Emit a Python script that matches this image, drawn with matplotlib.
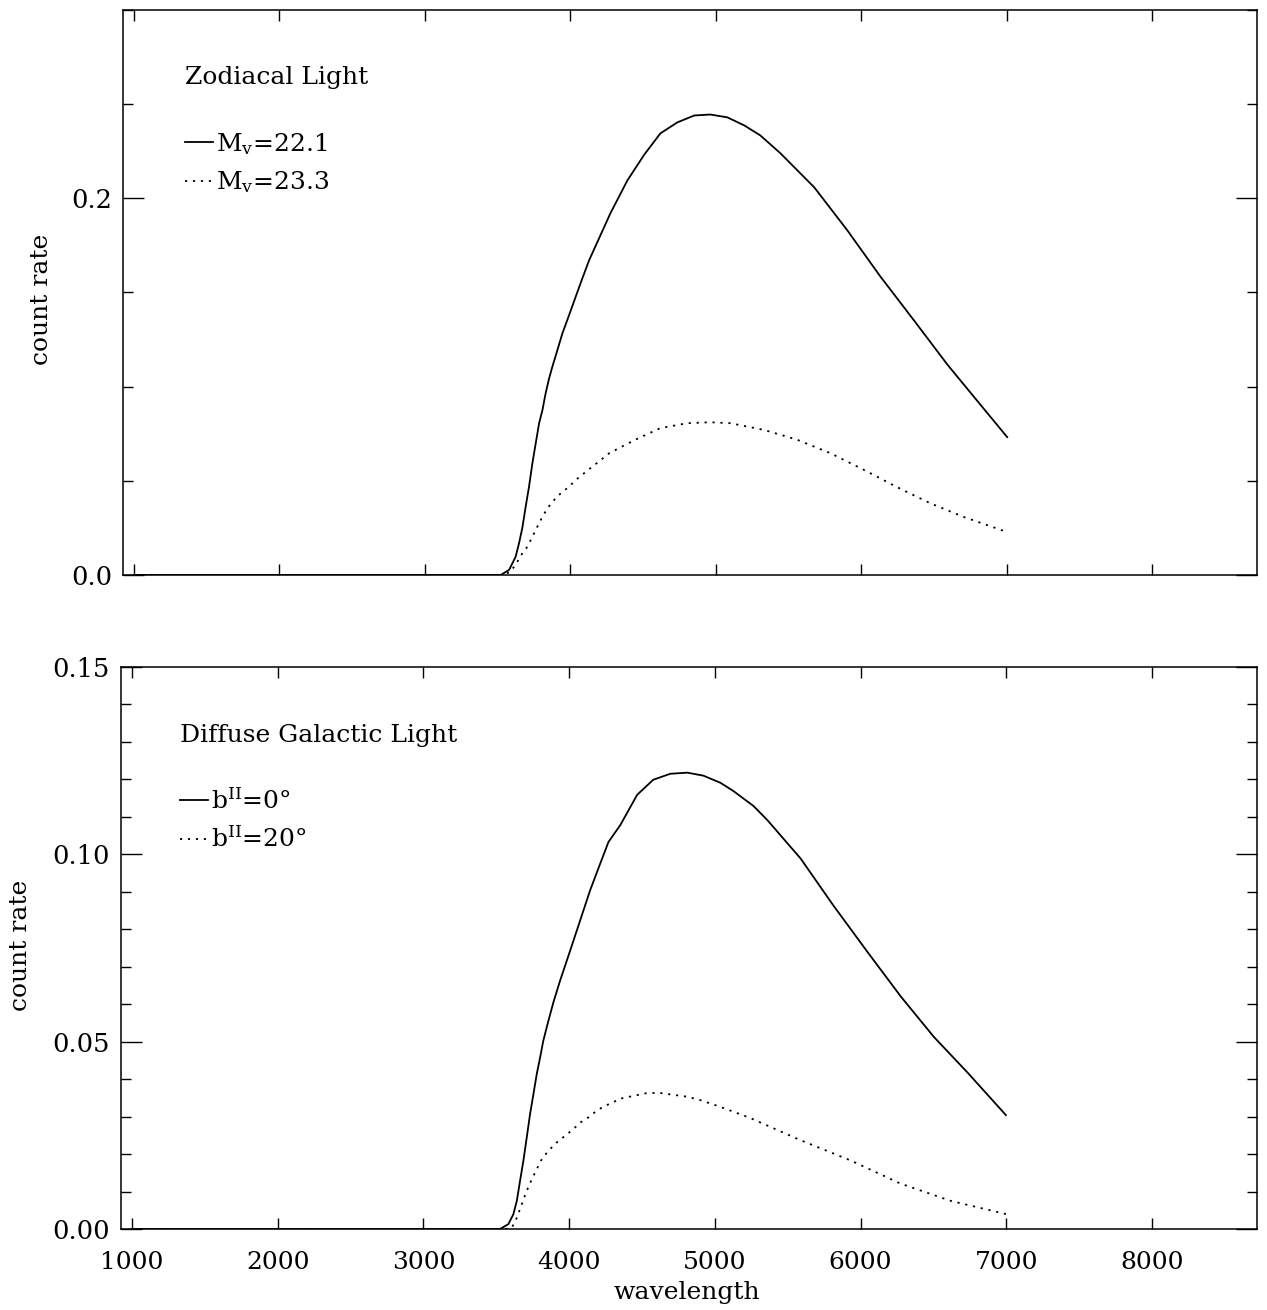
import matplotlib
matplotlib.use("Agg")
import matplotlib.pyplot as plt
from matplotlib.ticker import MultipleLocator, FormatStrFormatter

plt.rcParams['font.family'] = ['DejaVu Serif']
plt.rcParams['mathtext.fontset'] = 'dejavuserif'

# ---- data ----
zodi_bright_x = [1000, 3500, 3521, 3579, 3624, 3647, 3670, 3693, 3716, 3739, 3762, 3785, 3808,
                 3830, 3854, 3876, 3911, 3945, 3991, 4036, 4082, 4129, 4275, 4392, 4509, 4619,
                 4735, 4852, 4962, 5079, 5196, 5306, 5443, 5677, 5904, 6131, 6364, 6591, 6818,
                 7003]
zodi_bright_y = [0, 0, 0, 0.0027, 0.0097, 0.0168, 0.0250, 0.0363, 0.0469, 0.0593, 0.0699,
                 0.0805, 0.0875, 0.0964, 0.1044, 0.1105, 0.1194, 0.1282, 0.1379, 0.1476, 0.1574,
                 0.1671, 0.1920, 0.2095, 0.2233, 0.2345, 0.2403, 0.2440, 0.2445, 0.2430, 0.2387,
                 0.2334, 0.2240, 0.2058, 0.1830, 0.1585, 0.1350, 0.1118, 0.0905, 0.0732]

zodi_faint_x = [1000, 3540, 3590, 3636, 3670, 3704, 3739, 3773, 3808, 3842, 3888, 3933, 3991,
                4036, 4094, 4151, 4208, 4266, 4440, 4619, 4804, 4962, 5100, 5333, 5560, 5787,
                6021, 6247, 6474, 6708, 7003]
zodi_faint_y = [0, 0, 0.0018, 0.0071, 0.0115, 0.0150, 0.0203, 0.0256, 0.0309, 0.0354, 0.0398,
                0.0433, 0.0469, 0.0504, 0.0540, 0.0575, 0.0610, 0.0646, 0.0716, 0.0780, 0.0806,
                0.0811, 0.0806, 0.0770, 0.0718, 0.0647, 0.0557, 0.0466, 0.0381, 0.0307, 0.0228]

dgl_b0_x = [1000, 3500, 3526, 3583, 3617, 3641, 3663, 3686, 3709, 3732, 3755, 3778, 3801, 3823,
            3858, 3892, 3938, 4007, 4076, 4144, 4213, 4270, 4351, 4467, 4577, 4694, 4811, 4921,
            5038, 5127, 5265, 5361, 5588, 5814, 6048, 6275, 6502, 6735, 6997]
dgl_b0_y = [0, 0, 0, 0.0013, 0.0039, 0.0075, 0.0128, 0.0182, 0.0244, 0.0307, 0.0360, 0.0414,
            0.0458, 0.0503, 0.0556, 0.0605, 0.0663, 0.0743, 0.0824, 0.0904, 0.0975, 0.1033,
            0.1078, 0.1159, 0.1199, 0.1215, 0.1218, 0.1210, 0.1191, 0.1169, 0.1129, 0.1091,
            0.0989, 0.0863, 0.0739, 0.0621, 0.0513, 0.0417, 0.0304]

dgl_b20_x = [1000, 3560, 3606, 3641, 3675, 3709, 3744, 3778, 3812, 3858, 3915, 3973, 4030,
             4076, 4133, 4190, 4247, 4304, 4339, 4536, 4625, 4811, 4900, 5038, 5244, 5588,
             5931, 6275, 6619, 6997]
dgl_b20_y = [0, 0, 0.0003, 0.0030, 0.0066, 0.0102, 0.0133, 0.0160, 0.0186, 0.0209, 0.0231,
             0.0249, 0.0267, 0.0284, 0.0298, 0.0316, 0.0329, 0.0338, 0.0347, 0.0363, 0.0363,
             0.0353, 0.0344, 0.0326, 0.0296, 0.0237, 0.0183, 0.0121, 0.0075, 0.0040]

top_title = "Zodiacal Light"
top_labels = ["M$_\\mathrm{v}$=22.1", "M$_\\mathrm{v}$=23.3"]
bot_title = "Diffuse Galactic Light"
bot_labels = ["b$^{\\mathrm{II}}$=0°", "b$^{\\mathrm{II}}$=20°"]

x_ticks = [1000, 2000, 3000, 4000, 5000, 6000, 7000, 8000]

# ---- figure ----
W, H = 1267, 1310
fig = plt.figure(figsize=(W / 100, H / 100), dpi=100)
ax1 = fig.add_axes([123 / W, 1 - 575 / H, (1257 - 123) / W, (575 - 10) / H])
ax2 = fig.add_axes([121 / W, 1 - 1229 / H, (1257 - 121) / W, (1229 - 667) / H])

dot = (0, (1.2, 3.2))
lw = 1.3

ax1.plot(zodi_bright_x, zodi_bright_y, color='black', lw=lw, label=top_labels[0])
ax1.plot(zodi_faint_x, zodi_faint_y, color='black', lw=lw, ls=dot, label=top_labels[1])
ax2.plot(dgl_b0_x, dgl_b0_y, color='black', lw=lw, label=bot_labels[0])
ax2.plot(dgl_b20_x, dgl_b20_y, color='black', lw=lw, ls=dot, label=bot_labels[1])

for ax in (ax1, ax2):
    ax.set_xlim(925, 8720)
    ax.set_xticks(x_ticks)
    ax.tick_params(axis='both', which='both', direction='in', top=True, right=True,
                   width=1.0, colors='black')
    ax.tick_params(axis='x', which='major', length=8, pad=16, labelsize=18)
    ax.tick_params(axis='y', which='major', length=15, pad=8, labelsize=18.5)
    ax.tick_params(axis='y', which='minor', length=7.5)
    for s in ax.spines.values():
        s.set_linewidth(1.1)

ax1.set_ylim(0, 0.3)
ax1.yaxis.set_major_locator(MultipleLocator(0.2))
ax1.yaxis.set_minor_locator(MultipleLocator(0.05))
ax1.yaxis.set_major_formatter(FormatStrFormatter('%.1f'))
ax1.tick_params(axis='x', labelbottom=False)

ax2.set_ylim(0, 0.15)
ax2.yaxis.set_major_locator(MultipleLocator(0.05))
ax2.yaxis.set_minor_locator(MultipleLocator(0.01))
ax2.yaxis.set_major_formatter(FormatStrFormatter('%.2f'))

ax1.set_ylabel("count rate", fontsize=18)
ax1.yaxis.set_label_coords(-0.062, 0.487)
ax2.set_ylabel("count rate", fontsize=18)
ax2.yaxis.set_label_coords(-0.078, 0.505)
ax2.set_xlabel("wavelength", fontsize=18)
ax2.xaxis.set_label_coords(0.498, -0.093)

ax1.text(0.0548, 0.881, top_title, transform=ax1.transAxes, fontsize=18,
         ha='left', va='center')
ax2.text(0.052, 0.879, bot_title, transform=ax2.transAxes, fontsize=18,
         ha='left', va='center')

leg_kw = dict(loc='upper left', frameon=False, fontsize=18, handlelength=1.1,
              handletextpad=0.15, labelspacing=0.5, borderpad=0, borderaxespad=0)
ax1.legend(bbox_to_anchor=(0.0548, 0.786), **leg_kw)
ax2.legend(bbox_to_anchor=(0.052, 0.784), **leg_kw)

fig.savefig("out.png", dpi=100)
